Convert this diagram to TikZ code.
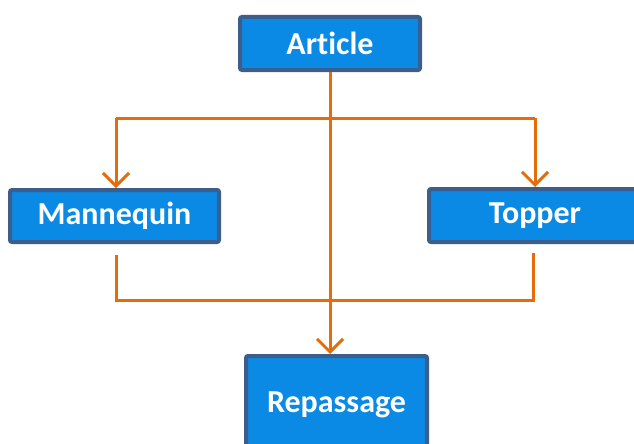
\documentclass[tikz,border=0pt]{standalone}
\usepackage{fontspec}
\setmainfont[Ligatures={NoCommon,NoRare}]{Carlito}
\usetikzlibrary{arrows.meta}
\definecolor{boxfill}{HTML}{0A8AE4}
\definecolor{boxline}{HTML}{3C5E8C}
\definecolor{conn}{HTML}{E46C0A}
\tikzset{
  box/.style={draw=boxline, fill=boxfill, line width=4pt, rounded corners=2pt,
    text=white, font=\fontsize{32}{36}\selectfont\bfseries, inner sep=0pt},
  link/.style={draw=conn, line width=3pt},
  arr/.style={link, -{Straight Barb[length=13pt, width=26pt, line width=3pt]}}
}
\begin{document}
\begin{tikzpicture}[x=1pt,y=1pt]
\useasboundingbox (0,0) rectangle (634,-444);
\clip (0,0) rectangle (634,-444);
\node[box, minimum width=180pt, minimum height=53pt] (art) at (330,-43.5) {Article};
\node[box, minimum width=209pt, minimum height=52pt] (man) at (114.5,-216) {Mannequin};
\node[box, minimum width=212pt, minimum height=53pt] (top) at (535,-215.5) {Topper};
\node[box, minimum width=181pt, minimum height=98pt] (rep) at (336.5,-405) {Repassage};
\coordinate (jl) at (116,-118);
\coordinate (jr) at (535,-118);
\coordinate (bl) at (116,-255);
\coordinate (bl2) at (116,-300);
\coordinate (br2) at (533,-300);
\coordinate (br) at (533,-253);
\draw[link] (jl) -- (jr);
\draw[arr] (jl) -- (jl |- man.north);
\draw[arr] (jr) -- (jr |- top.north);
\draw[link] (bl) -- (bl2) -- (br2) -- (br);
\draw[arr] (art.south) -- (art.south |- rep.north);
\end{tikzpicture}
\end{document}
